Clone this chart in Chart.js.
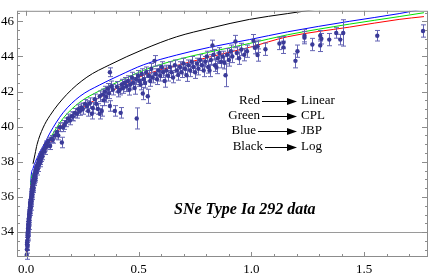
<!DOCTYPE html>
<html>
<head>
<meta charset="utf-8">
<script src="https://cdn.jsdelivr.net/npm/chart.js@4/dist/chart.umd.min.js"></script>
<style>
  html, body { margin: 0; padding: 0; background: #ffffff; }
  canvas { display: block; }
</style>
</head>
<body>
<canvas id="hubble" width="432" height="277"></canvas>
<script>
// SNe Ia data: redshift, distance modulus, error
const snZ = [
  0.003, 0.004, 0.005, 0.006, 0.006, 0.007, 0.008, 0.008, 0.009, 0.010,
  0.010, 0.011, 0.012, 0.013, 0.014, 0.015, 0.016, 0.017, 0.018, 0.019,
  0.020, 0.021, 0.021, 0.022, 0.023, 0.024, 0.025, 0.026, 0.027, 0.028,
  0.029, 0.030, 0.031, 0.032, 0.033, 0.034, 0.035, 0.036, 0.037, 0.038,
  0.040, 0.041, 0.042, 0.044, 0.045, 0.047, 0.049, 0.050, 0.052, 0.054,
  0.056, 0.058, 0.060, 0.062, 0.064, 0.066, 0.068, 0.070, 0.073, 0.076,
  0.079, 0.082, 0.085, 0.088, 0.092, 0.096, 0.012, 0.018, 0.024, 0.030,
  0.039, 0.046, 0.055, 0.063, 0.100, 0.107, 0.114, 0.119, 0.128, 0.137,
  0.143, 0.150, 0.159, 0.164, 0.170, 0.177, 0.186, 0.195, 0.202, 0.208,
  0.217, 0.226, 0.232, 0.239, 0.246, 0.252, 0.262, 0.270, 0.276, 0.283,
  0.292, 0.296, 0.305, 0.312, 0.319, 0.327, 0.327, 0.336, 0.341, 0.345,
  0.350, 0.356, 0.363, 0.368, 0.372, 0.372, 0.378, 0.385, 0.394, 0.403,
  0.410, 0.416, 0.420, 0.425, 0.430, 0.438, 0.445, 0.452, 0.458, 0.463,
  0.470, 0.475, 0.482, 0.488, 0.491, 0.497, 0.503, 0.508, 0.513, 0.518,
  0.522, 0.528, 0.533, 0.540, 0.545, 0.551, 0.556, 0.562, 0.570, 0.575,
  0.581, 0.588, 0.595, 0.602, 0.608, 0.615, 0.622, 0.630, 0.638, 0.645,
  0.652, 0.660, 0.668, 0.675, 0.683, 0.690, 0.698, 0.705, 0.712, 0.720,
  0.728, 0.735, 0.742, 0.750, 0.758, 0.765, 0.772, 0.780, 0.788, 0.795,
  0.802, 0.808, 0.814, 0.820, 0.827, 0.832, 0.838, 0.845, 0.850, 0.858,
  0.865, 0.872, 0.880, 0.885, 0.892, 0.900, 0.908, 0.915, 0.929, 0.935,
  0.945, 0.955, 0.968, 0.980, 1.009, 1.015, 1.027, 1.027, 1.062, 1.124,
  1.142, 1.142, 1.195, 1.204, 1.235, 1.235, 1.270, 1.305, 1.310, 1.305,
  1.345, 1.376, 1.394, 1.407, 1.558, 1.761,
  0.005, 0.007, 0.009, 0.011, 0.013, 0.015, 0.017, 0.019, 0.022, 0.025,
  0.028, 0.031, 0.034, 0.037, 0.040, 0.043, 0.048, 0.053, 0.058, 0.064
];
const snMu = [
  32.7, 33.0, 33.3, 33.5, 33.2, 33.8, 34.0, 33.7, 34.2, 34.4,
  34.1, 34.6, 34.5, 34.8, 35.0, 34.9, 35.2, 35.3, 35.1, 35.5,
  35.6, 35.4, 35.8, 35.9, 36.0, 35.8, 36.2, 36.1, 36.3, 36.5,
  36.4, 36.6, 36.7, 36.5, 36.9, 36.8, 37.0, 37.1, 36.9, 37.2,
  37.3, 37.1, 37.4, 37.5, 37.6, 37.4, 37.7, 37.8, 37.6, 37.9,
  38.0, 38.1, 37.9, 38.2, 38.3, 38.2, 38.4, 38.5, 38.3, 38.6,
  38.7, 38.6, 38.8, 39.0, 38.9, 39.1, 34.3, 35.6, 36.3, 36.9,
  37.0, 37.7, 37.8, 38.0, 39.2, 38.9, 39.3, 39.26, 39.5, 39.7,
  39.5, 39.97, 39.1, 39.97, 40.1, 40.25, 40.47, 40.36, 40.6, 40.58,
  40.79, 40.74, 41.0, 40.9, 41.1, 41.01, 41.3, 41.18, 40.9, 41.34,
  40.74, 41.07, 41.56, 41.3, 41.01, 41.73, 40.74, 40.9, 41.84, 41.5,
  42.0, 41.7, 42.16, 41.9, 41.18, 43.10, 42.3, 42.11, 40.90, 42.27,
  42.0, 42.11, 40.79, 42.4, 42.2, 42.5, 42.3, 42.6, 42.1, 42.4,
  42.8, 42.5, 42.2, 42.7, 40.47, 42.9, 42.6, 42.4, 43.0, 41.89,
  42.7, 42.5, 43.1, 41.73, 42.9, 42.6, 43.3, 42.8, 43.75, 43.0,
  42.7, 43.2, 42.9, 43.4, 43.1, 42.6, 43.2, 42.9, 43.4, 43.1,
  42.8, 43.5, 43.2, 42.95, 43.4, 43.1, 43.6, 43.3, 42.93, 43.5,
  43.2, 43.7, 43.4, 43.1, 43.6, 43.3, 43.8, 43.5, 43.2, 43.7,
  44.0, 43.4, 43.2, 43.8, 44.63, 44.1, 43.5, 43.37, 43.9, 44.2,
  43.7, 44.0, 43.64, 42.93, 44.1, 43.8, 44.3, 44.0, 44.85, 44.2,
  43.9, 44.4, 44.1, 44.3, 44.90, 44.5, 44.58, 44.08, 44.41, 44.74,
  44.79, 44.52, 43.75, 44.30, 45.18, 45.07, 44.68, 45.18, 45.01, 44.63,
  44.96, 45.34, 44.96, 45.34, 45.18, 45.45,
  33.4, 33.9, 34.0, 34.3, 34.7, 35.1, 35.4, 35.7, 35.7, 36.0,
  36.3, 36.5, 36.9, 37.2, 37.1, 37.5, 37.6, 37.8, 38.1, 38.1
];
const snErr = [
  0.25, 0.2, 0.2, 0.2, 0.2, 0.2, 0.2, 0.2, 0.2, 0.2,
  0.15, 0.15, 0.15, 0.15, 0.15, 0.15, 0.15, 0.15, 0.15, 0.15,
  0.15, 0.15, 0.15, 0.15, 0.15, 0.15, 0.15, 0.15, 0.15, 0.15,
  0.15, 0.15, 0.15, 0.15, 0.15, 0.15, 0.15, 0.15, 0.15, 0.15,
  0.15, 0.15, 0.15, 0.15, 0.15, 0.15, 0.15, 0.15, 0.15, 0.15,
  0.15, 0.15, 0.18, 0.18, 0.18, 0.18, 0.18, 0.18, 0.18, 0.18,
  0.18, 0.18, 0.18, 0.18, 0.18, 0.18, 0.15, 0.15, 0.15, 0.15,
  0.15, 0.15, 0.15, 0.15, 0.2, 0.2, 0.2, 0.2, 0.2, 0.25,
  0.25, 0.25, 0.3, 0.25, 0.25, 0.25, 0.25, 0.25, 0.25, 0.25,
  0.25, 0.25, 0.25, 0.25, 0.25, 0.3, 0.25, 0.3, 0.3, 0.3,
  0.3, 0.3, 0.3, 0.3, 0.3, 0.3, 0.3, 0.3, 0.3, 0.3,
  0.3, 0.3, 0.3, 0.3, 0.3, 0.25, 0.3, 0.3, 0.3, 0.3,
  0.3, 0.3, 0.3, 0.3, 0.3, 0.3, 0.3, 0.3, 0.3, 0.3,
  0.3, 0.3, 0.35, 0.3, 0.6, 0.3, 0.3, 0.3, 0.3, 0.35,
  0.3, 0.3, 0.3, 0.4, 0.3, 0.3, 0.3, 0.3, 0.3, 0.3,
  0.3, 0.3, 0.3, 0.3, 0.3, 0.35, 0.3, 0.3, 0.3, 0.3,
  0.3, 0.3, 0.3, 0.3, 0.3, 0.3, 0.3, 0.3, 0.35, 0.3,
  0.35, 0.3, 0.3, 0.35, 0.3, 0.35, 0.3, 0.3, 0.35, 0.3,
  0.3, 0.35, 0.35, 0.3, 0.3, 0.3, 0.35, 0.35, 0.3, 0.3,
  0.35, 0.3, 0.35, 0.65, 0.35, 0.35, 0.35, 0.35, 0.35, 0.35,
  0.35, 0.35, 0.35, 0.35, 0.35, 0.35, 0.35, 0.35, 0.35, 0.35,
  0.35, 0.35, 0.4, 0.35, 0.35, 0.35, 0.35, 0.3, 0.3, 0.35,
  0.35, 0.3, 0.3, 0.75, 0.3, 0.35,
  0.15, 0.15, 0.15, 0.15, 0.15, 0.15, 0.15, 0.15, 0.15, 0.15,
  0.15, 0.15, 0.15, 0.15, 0.15, 0.15, 0.15, 0.15, 0.15, 0.15
];

// model curves
const linearZ  = [0.002, 0.004, 0.009, 0.013, 0.018, 0.020, 0.035, 0.058, 0.084, 0.106, 0.164, 0.239, 0.327, 0.416, 0.522, 0.668, 0.814, 0.991, 1.159, 1.434, 1.655, 1.765];
const linearMu = [32.68, 33.51, 34.16, 34.88, 35.70, 36.25, 37.23, 38.00, 38.60, 39.04, 40.14, 40.96, 41.67, 42.27, 42.93, 43.48, 43.97, 44.52, 45.12, 45.67, 46.11, 46.27];
const cplZ  = [0.002, 0.004, 0.009, 0.013, 0.018, 0.022, 0.035, 0.058, 0.084, 0.106, 0.164, 0.239, 0.327, 0.416, 0.522, 0.668, 0.814, 0.991, 1.159, 1.434, 1.655, 1.765];
const cplMu = [32.68, 33.51, 34.16, 34.88, 35.70, 36.79, 37.45, 38.16, 38.82, 39.32, 40.47, 41.40, 42.05, 42.60, 43.21, 43.81, 44.25, 44.74, 45.23, 45.84, 46.27, 46.49];
const jbpZ  = [0.009, 0.018, 0.022, 0.031, 0.053, 0.080, 0.106, 0.164, 0.239, 0.327, 0.416, 0.522, 0.668, 0.814, 0.991, 1.159, 1.434, 1.655, 1.765];
const jbpMu = [34.33, 35.70, 37.07, 37.62, 38.33, 38.99, 39.64, 40.79, 41.73, 42.38, 42.93, 43.53, 44.08, 44.52, 44.96, 45.40, 46.00, 46.44, 46.71];
const logZ  = [0.031, 0.040, 0.049, 0.075, 0.106, 0.181, 0.270, 0.372, 0.522, 0.668, 0.819, 0.991, 1.159, 1.301];
const logMu = [37.89, 38.44, 38.99, 39.92, 40.63, 41.84, 42.82, 43.53, 44.41, 45.12, 45.62, 46.11, 46.44, 46.71];

const xTicks = [0, 0.5, 1.0, 1.5];
const yTicks = [34, 36, 38, 40, 42, 44, 46];
const keyNames = ['Red', 'Green', 'Blue', 'Black'];
const keyModels = ['Linear', 'CPL', 'JBP', 'Log'];
const titleText = 'SNe Type Ia 292 data';

const pointColor = '#3a3a98';
const barColor = '#6464b4';
const serif = "'Liberation Serif', 'DejaVu Serif', serif";

function pairs(xs, ys) {
    return xs.map((x, i) => ({ x: x, y: ys[i] }));
}

function curve(xs, ys, color) {
    return {
        data: pairs(xs, ys),
        showLine: true,
        borderColor: color,
        borderWidth: 1,
        pointRadius: 0,
        cubicInterpolationMode: 'monotone'
    };
}

// frame, inward ticks, the line at 34, error bars and the key
const decorations = {
    id: 'decorations',
    beforeDatasetDraw(chart, args) {
        if (args.index !== 0) return;
        const { ctx, scales: { x, y } } = chart;
        ctx.save();
        ctx.strokeStyle = barColor;
        ctx.lineWidth = 1;
        snZ.forEach((z, i) => {
            const px = Math.round(x.getPixelForValue(z)) + 0.5;
            const top = y.getPixelForValue(snMu[i] + snErr[i]);
            const bot = y.getPixelForValue(snMu[i] - snErr[i]);
            ctx.beginPath();
            ctx.moveTo(px, top); ctx.lineTo(px, bot);
            ctx.moveTo(px - 2.5, top); ctx.lineTo(px + 2.5, top);
            ctx.moveTo(px - 2.5, bot); ctx.lineTo(px + 2.5, bot);
            ctx.stroke();
        });
        ctx.restore();
    },
    beforeDatasetsDraw(chart) {
        const { ctx, chartArea: a, scales: { y } } = chart;
        const py = Math.round(y.getPixelForValue(34)) + 0.5;
        ctx.save();
        ctx.strokeStyle = '#9a9a9a';
        ctx.lineWidth = 1;
        ctx.beginPath();
        ctx.moveTo(a.left, py); ctx.lineTo(a.right, py);
        ctx.stroke();
        ctx.restore();
    },
    afterDraw(chart) {
        const { ctx, chartArea: a, scales: { x, y } } = chart;
        ctx.save();
        ctx.strokeStyle = '#8c8c8c';
        ctx.lineWidth = 1;
        ctx.strokeRect(a.left + 0.5, a.top + 0.5, a.right - a.left - 1, a.bottom - a.top - 1);

        ctx.beginPath();
        for (let i = 0; i <= 17; i++) {
            const v = i / 10;
            const len = (i % 5 === 0) ? 5 : 3;
            const px = Math.round(x.getPixelForValue(v)) + 0.5;
            ctx.moveTo(px, a.bottom); ctx.lineTo(px, a.bottom - len);
            ctx.moveTo(px, a.top); ctx.lineTo(px, a.top + len);
        }
        for (let v = 33; v <= 46.5; v += 0.5) {
            const len = (v % 2 === 0) ? 6 : 3;
            const py = Math.round(y.getPixelForValue(v)) + 0.5;
            ctx.moveTo(a.left, py); ctx.lineTo(a.left + len, py);
            ctx.moveTo(a.right, py); ctx.lineTo(a.right - len, py);
        }
        ctx.stroke();

        // key
        const rowsY = [101, 116, 131, 147];
        const namesRight = [260, 260, 256, 263];
        ctx.fillStyle = '#000';
        ctx.strokeStyle = '#000';
        ctx.font = '13px ' + serif;
        ctx.textBaseline = 'middle';
        rowsY.forEach((ry, i) => {
            ctx.textAlign = 'right';
            ctx.fillText(keyNames[i], namesRight[i], ry);
            ctx.textAlign = 'left';
            ctx.fillText(keyModels[i], 301, ry);
            ctx.beginPath();
            ctx.moveTo(namesRight[i] + 2, ry + 0.5);
            ctx.lineTo(289, ry + 0.5);
            ctx.stroke();
            ctx.beginPath();
            ctx.moveTo(297, ry + 0.5);
            ctx.lineTo(287, ry - 3);
            ctx.lineTo(287, ry + 4);
            ctx.closePath();
            ctx.fill();
        });

        ctx.font = 'italic bold 16px ' + serif;
        ctx.textAlign = 'left';
        ctx.fillText(titleText, 174, 210);
        ctx.restore();
    }
};

new Chart(document.getElementById('hubble'), {
    type: 'scatter',
    data: {
        datasets: [
            {
                data: pairs(snZ, snMu),
                backgroundColor: pointColor,
                borderColor: pointColor,
                borderWidth: 0,
                pointRadius: 2.2
            },
            curve(linearZ, linearMu, '#ff0000'),
            curve(cplZ, cplMu, '#00e000'),
            curve(jbpZ, jbpMu, '#0000ff'),
            curve(logZ, logMu, '#000000')
        ]
    },
    options: {
        responsive: false,
        animation: false,
        devicePixelRatio: 1,
        layout: { padding: { top: 1, right: 3, left: 0, bottom: 0 } },
        plugins: { legend: { display: false }, tooltip: { enabled: false } },
        scales: {
            x: {
                type: 'linear',
                min: -0.04,
                max: 1.783,
                grid: { display: false, drawTicks: false, tickLength: 0 },
                border: { display: false },
                afterBuildTicks: s => { s.ticks = xTicks.map(v => ({ value: v })); },
                afterFit: s => { s.height = 20; },
                ticks: {
                    autoSkip: false,
                    maxRotation: 0,
                    padding: 5,
                    color: '#000',
                    font: { family: serif, size: 13 },
                    callback: v => v.toFixed(1)
                }
            },
            y: {
                type: 'linear',
                min: 32.58,
                max: 46.6,
                grid: { display: false, drawTicks: false, tickLength: 0 },
                border: { display: false },
                afterBuildTicks: s => { s.ticks = yTicks.map(v => ({ value: v })); },
                afterFit: s => { s.width = 17; },
                ticks: {
                    autoSkip: false,
                    padding: 3,
                    color: '#000',
                    font: { family: serif, size: 13 },
                    callback: v => String(v)
                }
            }
        }
    },
    plugins: [decorations]
});
</script>
</body>
</html>
